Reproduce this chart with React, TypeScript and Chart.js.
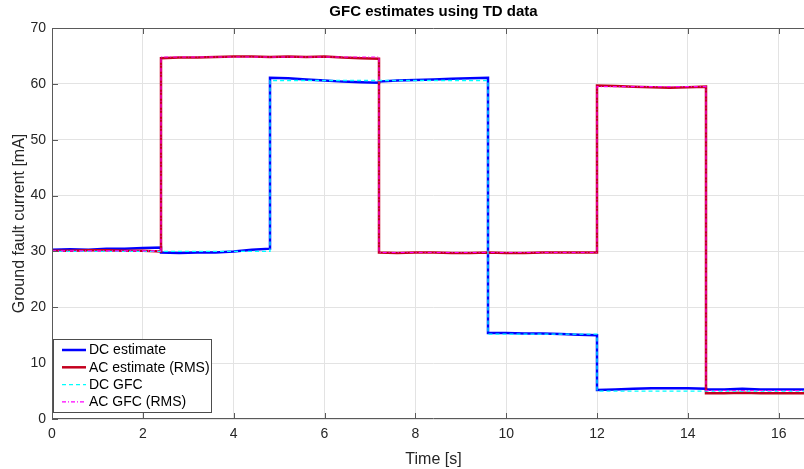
import React, { useEffect, useRef } from "react";
import { Chart, registerables } from "chart.js";

Chart.register(...registerables);

const TITLE = "GFC estimates using TD data";
const X_LABEL = "Time [s]";
const Y_LABEL = "Ground fault current [mA]";

// time samples; each step boundary appears twice (end of one segment, start of the next)
const time = [
  0, 0.4, 0.8, 1.2, 1.6, 2.0, 2.4,
  2.4, 2.8, 3.2, 3.6, 4.0, 4.4, 4.8,
  4.8, 5.2, 5.6, 6.0, 6.4, 6.8, 7.2,
  7.2, 7.6, 8.0, 8.4, 8.8, 9.2, 9.6,
  9.6, 10.0, 10.4, 10.8, 11.2, 11.6, 12.0,
  12.0, 12.4, 12.8, 13.2, 13.6, 14.0, 14.4,
  14.4, 14.8, 15.2, 15.6, 16.0, 16.4, 16.8,
];

const dcEstimate = [
  30.3, 30.4, 30.3, 30.5, 30.5, 30.6, 30.7,
  29.8, 29.7, 29.8, 29.8, 30.0, 30.3, 30.5,
  61.1, 61.0, 60.8, 60.6, 60.4, 60.3, 60.2,
  60.4, 60.6, 60.7, 60.8, 60.9, 61.0, 61.1,
  15.4, 15.4, 15.3, 15.3, 15.2, 15.1, 15.0,
  5.2, 5.3, 5.4, 5.5, 5.5, 5.5, 5.4,
  5.3, 5.3, 5.4, 5.3, 5.3, 5.3, 5.3,
];

const acEstimate = [
  30.1, 30.1, 30.2, 30.2, 30.1, 30.1, 30.0,
  64.6, 64.7, 64.7, 64.8, 64.9, 64.9, 64.8,
  64.8, 64.9, 64.8, 64.9, 64.7, 64.6, 64.5,
  29.8, 29.7, 29.8, 29.8, 29.7, 29.7, 29.8,
  29.8, 29.7, 29.7, 29.8, 29.8, 29.8, 29.8,
  59.7, 59.6, 59.5, 59.4, 59.3, 59.4, 59.5,
  4.6, 4.6, 4.7, 4.6, 4.6, 4.6, 4.6,
];

const dcGfc = [
  30, 30, 30, 30, 30, 30, 30,
  30, 30, 30, 30, 30, 30, 30,
  60.6, 60.6, 60.6, 60.6, 60.6, 60.6, 60.6,
  60.6, 60.6, 60.6, 60.6, 60.6, 60.6, 60.6,
  15.2, 15.2, 15.2, 15.2, 15.2, 15.2, 15.2,
  5, 5, 5, 5, 5, 5, 5,
  5, 5, 5, 5, 5, 5, 5,
];

const acGfc = [
  30.1, 30.1, 30.1, 30.1, 30.1, 30.1, 30.1,
  64.8, 64.8, 64.8, 64.8, 64.8, 64.8, 64.8,
  64.8, 64.8, 64.8, 64.8, 64.8, 64.8, 64.8,
  29.8, 29.8, 29.8, 29.8, 29.8, 29.8, 29.8,
  29.8, 29.8, 29.8, 29.8, 29.8, 29.8, 29.8,
  59.5, 59.5, 59.5, 59.5, 59.5, 59.5, 59.5,
  5.1, 5.1, 5.1, 5.1, 5.1, 5.1, 5.1,
];

const xTicks = [0, 2, 4, 6, 8, 10, 12, 14, 16];
const yTicks = [0, 10, 20, 30, 40, 50, 60, 70];

const pts = (ys: number[]) => time.map((t, i) => ({ x: t, y: ys[i] }));

const FONT = "'Liberation Sans', Arial, Helvetica, sans-serif";
const AXIS_COLOR = "#5a5a5a";
const GRID_COLOR = "#e3e3e3";

type Series = { label: string; data: number[]; color: string; width: number; dash: number[] };
const legendSeries: Series[] = [
  { label: "DC estimate", data: dcEstimate, color: "#0000ff", width: 2.5, dash: [] },
  { label: "AC estimate (RMS)", data: acEstimate, color: "#c4001e", width: 2.5, dash: [] },
  { label: "DC GFC", data: dcGfc, color: "#00ffff", width: 1.3, dash: [4, 3] },
  { label: "AC GFC (RMS)", data: acGfc, color: "#ff00ff", width: 1.1, dash: [4, 2, 1, 2] },
];

const framePlugin = {
  id: "frame",
  afterDatasetsDraw(chart: any) {
    const { ctx, chartArea: a, scales } = chart;
    const xs = scales.x;
    const ys = scales.y;
    ctx.save();
    ctx.strokeStyle = AXIS_COLOR;
    ctx.lineWidth = 1;
    ctx.beginPath();
    ctx.rect(a.left + 0.5, a.top + 0.5, a.right - a.left - 1, a.bottom - a.top - 1);
    ctx.stroke();
    // inward ticks
    ctx.beginPath();
    xTicks.forEach((v) => {
      const px = Math.round(xs.getPixelForValue(v)) + 0.5;
      ctx.moveTo(px, a.bottom);
      ctx.lineTo(px, a.bottom - 6);
      ctx.moveTo(px, a.top);
      ctx.lineTo(px, a.top + 6);
    });
    yTicks.forEach((v) => {
      const py = Math.round(ys.getPixelForValue(v)) + 0.5;
      ctx.moveTo(a.left, py);
      ctx.lineTo(a.left + 6, py);
    });
    ctx.stroke();

    // title
    ctx.fillStyle = "#000";
    ctx.font = `bold 15px ${FONT}`;
    ctx.textAlign = "center";
    ctx.textBaseline = "middle";
    ctx.fillText(TITLE, (a.left + a.right) / 2, 11.5);

    // legend
    const lx = 53, ly = 339, lw = 158, lh = 73;
    ctx.fillStyle = "#fff";
    ctx.fillRect(lx, ly, lw, lh);
    ctx.strokeStyle = "#4d4d4d";
    ctx.strokeRect(lx + 0.5, ly + 0.5, lw, lh);
    ctx.font = `14px ${FONT}`;
    ctx.textAlign = "left";
    legendSeries.forEach((s, i) => {
      const y = 350 + i * 17.3;
      ctx.beginPath();
      ctx.strokeStyle = s.color;
      ctx.lineWidth = s.width;
      ctx.setLineDash(s.dash);
      ctx.moveTo(62, y);
      ctx.lineTo(86, y);
      ctx.stroke();
      ctx.setLineDash([]);
      ctx.fillStyle = "#000";
      ctx.fillText(s.label, 89, y + 0.5);
    });
    ctx.restore();
  },
};

export default function App() {
  const ref = useRef<HTMLCanvasElement | null>(null);

  useEffect(() => {
    if (!ref.current) return;
    document.body.style.margin = "0";
    const order = [3, 2, 1, 0];
    const chart = new Chart(ref.current, {
      type: "scatter",
      data: {
        datasets: order.map((k) => {
          const s = legendSeries[k];
          return {
            label: s.label,
            data: pts(s.data),
            showLine: true,
            borderColor: s.color,
            backgroundColor: s.color,
            borderWidth: s.width,
            borderDash: s.dash,
            pointRadius: 0,
            tension: 0,
          };
        }),
      },
      options: {
        responsive: false,
        animation: false,
        layout: { padding: { top: 28, right: 0, left: 0, bottom: 0 } },
        plugins: {
          legend: { display: false },
          title: { display: false },
          tooltip: { enabled: false },
        },
        scales: {
          x: {
            type: "linear",
            min: 0,
            max: 16.8,
            afterBuildTicks: (s: any) => {
              s.ticks = xTicks.map((v) => ({ value: v }));
            },
            afterFit: (s: any) => {
              s.height = 50;
            },
            grid: { color: GRID_COLOR, drawTicks: false },
            border: { display: false },
            ticks: {
              color: "#262626",
              font: { family: FONT, size: 14 },
              padding: 7,
              maxRotation: 0,
              autoSkip: false,
            },
            title: {
              display: true,
              text: X_LABEL,
              color: "#262626",
              font: { family: FONT, size: 16 },
              padding: { top: 2, bottom: 0 },
            },
          },
          y: {
            type: "linear",
            min: 0,
            max: 70,
            afterBuildTicks: (s: any) => {
              s.ticks = yTicks.map((v) => ({ value: v }));
            },
            afterFit: (s: any) => {
              s.width = 52;
            },
            grid: { color: GRID_COLOR, drawTicks: false },
            border: { display: false },
            ticks: {
              color: "#262626",
              font: { family: FONT, size: 14 },
              padding: 6,
            },
            title: {
              display: true,
              text: Y_LABEL,
              color: "#262626",
              font: { family: FONT, size: 16 },
              padding: { top: 10, bottom: 0 },
            },
          },
        },
      },
      plugins: [framePlugin],
    });
    return () => chart.destroy();
  }, []);

  return (
    <div
      style={{
        position: "fixed",
        left: 0,
        top: 0,
        width: 804,
        height: 469,
        overflow: "hidden",
        background: "#fff",
      }}
    >
      <canvas ref={ref} width={815} height={469} style={{ display: "block" }} />
    </div>
  );
}
